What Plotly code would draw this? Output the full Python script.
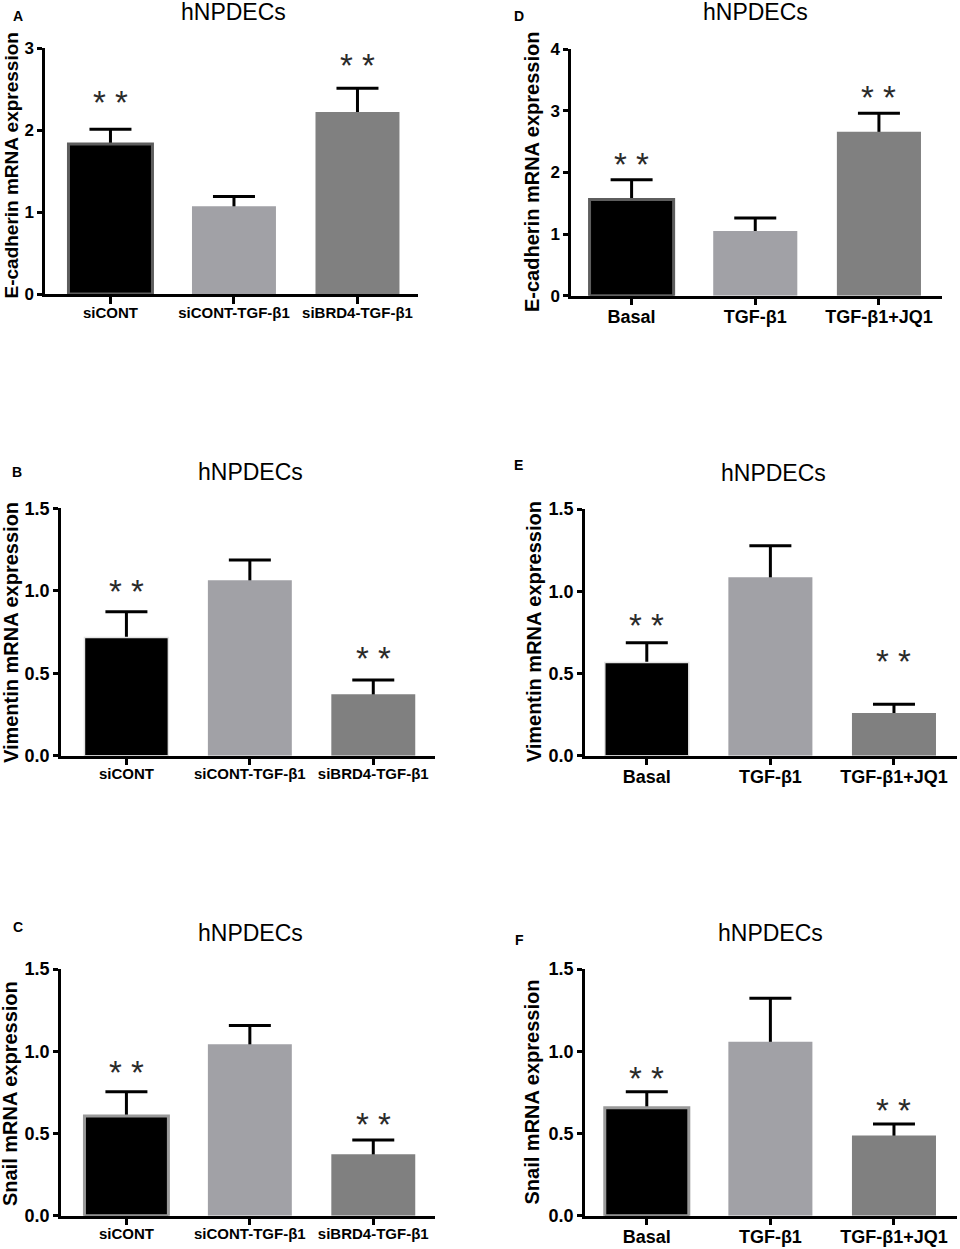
import plotly.graph_objects as go

W, H = 960, 1249

# ---------------- data ----------------
labels_si = ["siCONT", "siCONT-TGF-β1", "siBRD4-TGF-β1"]
labels_jq = ["Basal", "TGF-β1", "TGF-β1+JQ1"]

ecad_si_mean = [1.83, 1.07, 2.22]
ecad_si_sem = [0.18, 0.12, 0.29]
ecad_si_star = [2.43, None, 2.89]

ecad_jq_mean = [1.56, 1.05, 2.66]
ecad_jq_sem = [0.32, 0.21, 0.30]
ecad_jq_star = [2.26, None, 3.34]

vim_si_mean = [0.716, 1.064, 0.372]
vim_si_sem = [0.157, 0.123, 0.087]
vim_si_star = [1.045, None, 0.635]

vim_jq_mean = [0.566, 1.085, 0.26]
vim_jq_sem = [0.121, 0.192, 0.053]
vim_jq_star = [0.84, None, 0.623]

snail_si_mean = [0.606, 1.043, 0.373]
snail_si_sem = [0.148, 0.113, 0.087]
snail_si_star = [0.917, None, 0.602]

snail_jq_mean = [0.657, 1.058, 0.487]
snail_jq_sem = [0.097, 0.264, 0.071]
snail_jq_star = [0.88, None, 0.687]

sig_text = "* *"
panel_title = "hNPDECs"

bar_colors = ["#000000", "#a1a1a6", "#808080"]

# ---------------- layout helpers (window pixel -> paper fraction) ----------------
def px_x(v):
    return v / W

def px_y(v):
    return 1 - v / H

panels = [
    dict(letter="A", cats=labels_si, mean=ecad_si_mean, sem=ecad_si_sem, star=ecad_si_star,
         ytitle="E-cadherin mRNA expression", yrange=[0, 3], dtick=1, fmt="d",
         xd=(45, 418), yd=(48, 294), xr=[-0.53, 2.49], edge="#5e5e5e", ew=3,
         tfs=15, yfs=17, ttl=19, ttx=10.5, tty=166, hx=233, hy=12, lx=18, ly=16.5),
    dict(letter="D", cats=labels_jq, mean=ecad_jq_mean, sem=ecad_jq_sem, star=ecad_jq_star,
         ytitle="E-cadherin mRNA expression", yrange=[0, 4], dtick=1, fmt="d",
         xd=(571, 942), yd=(49, 295.7), xr=[-0.49, 2.51], edge="#5e5e5e", ew=3,
         tfs=18, yfs=17, ttl=20, ttx=531.5, tty=172.5, hx=755, hy=11.5, lx=519, ly=16.5),
    dict(letter="B", cats=labels_si, mean=vim_si_mean, sem=vim_si_sem, star=vim_si_star,
         ytitle="Vimentin mRNA expression", yrange=[0, 1.5], dtick=0.5, fmt=".1f",
         xd=(61, 435), yd=(508.3, 755.7), xr=[-0.53, 2.5], edge="#e4e4e4", ew=1.5,
         tfs=15, yfs=18, ttl=20, ttx=10.8, tty=632.3, hx=250, hy=472, lx=16.7, ly=472),
    dict(letter="E", cats=labels_jq, mean=vim_jq_mean, sem=vim_jq_sem, star=vim_jq_star,
         ytitle="Vimentin mRNA expression", yrange=[0, 1.5], dtick=0.5, fmt=".1f",
         xd=(585, 957), yd=(509, 755.7), xr=[-0.5, 2.51], edge="#e4e4e4", ew=1.5,
         tfs=18, yfs=18, ttl=20, ttx=534, tty=632.3, hx=773, hy=473.3, lx=518.3, ly=465.3),
    dict(letter="C", cats=labels_si, mean=snail_si_mean, sem=snail_si_sem, star=snail_si_star,
         ytitle="Snail mRNA expression", yrange=[0, 1.5], dtick=0.5, fmt=".1f",
         xd=(61, 435), yd=(969, 1215.7), xr=[-0.53, 2.5], edge="#9a9a9a", ew=3,
         tfs=15, yfs=18, ttl=20, ttx=10.8, tty=1093.3, hx=250, hy=932.8, lx=17.5, ly=926.7),
    dict(letter="F", cats=labels_jq, mean=snail_jq_mean, sem=snail_jq_sem, star=snail_jq_star,
         ytitle="Snail mRNA expression", yrange=[0, 1.5], dtick=0.5, fmt=".1f",
         xd=(585, 957), yd=(969, 1215.7), xr=[-0.5, 2.51], edge="#9a9a9a", ew=3,
         tfs=18, yfs=18, ttl=20, ttx=531, tty=1092.5, hx=770, hy=932.8, lx=519, ly=940),
]

fig = go.Figure()
annotations = []
layout = dict(
    width=W, height=H,
    margin=dict(l=0, r=0, t=0, b=0, autoexpand=False),
    paper_bgcolor="white", plot_bgcolor="white",
    showlegend=False, barmode="overlay",
    font=dict(family="Liberation Sans, Arial, sans-serif", color="black"),
)

for i, p in enumerate(panels):
    n = "" if i == 0 else str(i + 1)
    xref, yref = "x" + n, "y" + n
    # error bars (drawn underneath the bars so only the upper part shows)
    fig.add_trace(go.Bar(
        x=p["cats"], y=p["mean"], xaxis=xref, yaxis=yref, width=0.68,
        marker=dict(color="rgba(0,0,0,0)", line=dict(width=0)),
        error_y=dict(type="data", symmetric=False, array=p["sem"],
                     arrayminus=[m * 0.5 for m in p["mean"]],
                     color="black", thickness=3, width=21),
        hoverinfo="skip",
    ))
    fig.add_trace(go.Bar(
        x=p["cats"], y=p["mean"], xaxis=xref, yaxis=yref, width=0.68,
        marker=dict(color=bar_colors,
                    line=dict(color=[p["edge"], bar_colors[1], bar_colors[2]],
                              width=[p["ew"], 0, 0])),
    ))
    layout["xaxis" + n] = dict(
        domain=[px_x(p["xd"][0]), px_x(p["xd"][1])],
        anchor=yref, type="category", range=p["xr"],
        showline=True, linecolor="black", linewidth=2.5,
        ticks="outside", ticklen=7, tickwidth=2.5, tickcolor="black",
        ticklabelstandoff=-4,
        showgrid=False, zeroline=False,
        tickfont=dict(size=p["tfs"], weight="bold", color="black"),
        fixedrange=True,
    )
    layout["yaxis" + n] = dict(
        domain=[px_y(p["yd"][1]), px_y(p["yd"][0])],
        anchor=xref, range=p["yrange"], dtick=p["dtick"], tick0=0,
        tickformat=p["fmt"],
        showline=True, linecolor="black", linewidth=2.5,
        ticks="outside", ticklen=5, tickwidth=2.5, tickcolor="black",
        showgrid=False, zeroline=False,
        tickfont=dict(size=p["yfs"], weight="bold", color="black"),
        fixedrange=True,
    )
    # significance stars
    for c, s in zip(p["cats"], p["star"]):
        if s is None:
            continue
        annotations.append(dict(
            x=c, y=s, xref=xref, yref=yref, text=sig_text, showarrow=False,
            xanchor="center", yanchor="middle", yshift=-8,
            font=dict(size=33, color="#2a2a2a"),
        ))
    # y-axis title
    annotations.append(dict(
        x=px_x(p["ttx"]), y=px_y(p["tty"]), xref="paper", yref="paper",
        text=p["ytitle"], textangle=-90, showarrow=False,
        xanchor="center", yanchor="middle",
        font=dict(size=p["ttl"], weight="bold", color="black"),
    ))
    # panel title
    annotations.append(dict(
        x=px_x(p["hx"]), y=px_y(p["hy"]), xref="paper", yref="paper",
        text=panel_title, showarrow=False, xanchor="center", yanchor="middle",
        font=dict(size=23, color="black"),
    ))
    # panel letter
    annotations.append(dict(
        x=px_x(p["lx"]), y=px_y(p["ly"]), xref="paper", yref="paper",
        text=p["letter"], showarrow=False, xanchor="center", yanchor="middle",
        font=dict(size=14, weight="bold", color="black"),
    ))

layout["annotations"] = annotations
fig.update_layout(**layout)
fig.write_html(
    "out.html",
    config={"displayModeBar": False},
    post_script="document.body.style.margin='0';document.body.style.padding='0';"
                "document.documentElement.style.overflow='hidden';",
)
